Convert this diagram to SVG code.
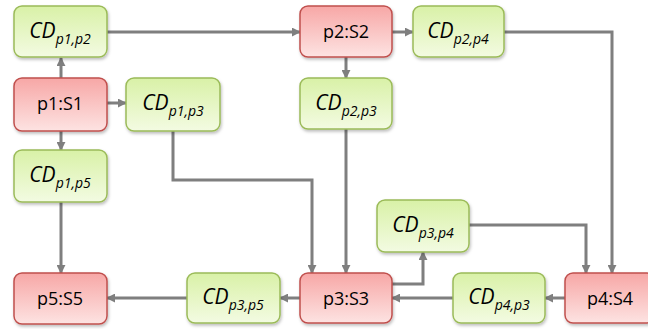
<svg xmlns="http://www.w3.org/2000/svg" width="648" height="329" viewBox="0 0 648 329">
<defs>
<linearGradient id="gr" x1="0" y1="0" x2="0" y2="1">
<stop offset="0" stop-color="#f7a7a6"/>
<stop offset="1" stop-color="#fde3e2"/>
</linearGradient>
<linearGradient id="gg" x1="0" y1="0" x2="0" y2="1">
<stop offset="0" stop-color="#d9f1a7"/>
<stop offset="1" stop-color="#f3fbe2"/>
</linearGradient>
<filter id="sh" x="-10%" y="-10%" width="130%" height="140%">
<feDropShadow dx="1" dy="2" stdDeviation="1.5" flood-color="#000" flood-opacity="0.25"/>
</filter>
<marker id="ah" viewBox="0 0 10 10" refX="9" refY="5" markerWidth="9" markerHeight="9" markerUnits="userSpaceOnUse" orient="auto">
<path d="M0,0 L10,5 L0,10 Z" fill="#7f7f7f"/>
</marker>
</defs>
<style>
.r rect{fill:url(#gr);stroke:#c0504d;stroke-width:1.5;filter:url(#sh)}
.g rect{fill:url(#gg);stroke:#9bbb59;stroke-width:1.5;filter:url(#sh)}
text{font-family:"Open Sans","Liberation Sans",sans-serif;fill:#000;text-anchor:middle}
.r text{font-size:18px}
.g text{font-size:21px;font-style:italic}
.g tspan{font-size:14px}
#edges path{fill:none;stroke:#7f7f7f;stroke-width:3;marker-end:url(#ah)}
</style>
<g id="edges">
<path d="M61,78 V58"/>
<path d="M107,103 H126"/>
<path d="M61,131 V150"/>
<path d="M107,32 H300"/>
<path d="M392,32 H413"/>
<path d="M346,57 V78"/>
<path d="M504,32 H612 V273"/>
<path d="M173,131 V180 H312 V273"/>
<path d="M346,129 V273"/>
<path d="M469,225 H586 V273"/>
<path d="M392,284 H423 V252"/>
<path d="M565,298 H545"/>
<path d="M453,298 H392"/>
<path d="M300,298 H280"/>
<path d="M187,298 H107"/>
<path d="M61,202 V273"/>
</g>
<g id="cd_p1_p2" class="g"><rect x="14" y="6" width="93" height="51" rx="8"/><text x="60" y="38">CD<tspan dy="6">p1,p2</tspan></text></g>
<g id="p1" class="r"><rect x="14" y="78" width="93" height="53" rx="8"/><text x="60" y="110">p1:S1</text></g>
<g id="cd_p1_p3" class="g"><rect x="126" y="78" width="94" height="53" rx="8"/><text x="173" y="110">CD<tspan dy="6">p1,p3</tspan></text></g>
<g id="cd_p1_p5" class="g"><rect x="14" y="150" width="93" height="52" rx="8"/><text x="60" y="182">CD<tspan dy="6">p1,p5</tspan></text></g>
<g id="p5" class="r"><rect x="14" y="273" width="93" height="51" rx="8"/><text x="60" y="305">p5:S5</text></g>
<g id="p2" class="r"><rect x="300" y="6" width="92" height="51" rx="8"/><text x="346" y="38">p2:S2</text></g>
<g id="cd_p2_p4" class="g"><rect x="413" y="6" width="91" height="51" rx="8"/><text x="458" y="38">CD<tspan dy="6">p2,p4</tspan></text></g>
<g id="cd_p2_p3" class="g"><rect x="300" y="78" width="92" height="51" rx="8"/><text x="346" y="110">CD<tspan dy="6">p2,p3</tspan></text></g>
<g id="cd_p3_p4" class="g"><rect x="377" y="200" width="92" height="52" rx="8"/><text x="423" y="232">CD<tspan dy="6">p3,p4</tspan></text></g>
<g id="cd_p3_p5" class="g"><rect x="187" y="273" width="93" height="50" rx="8"/><text x="233" y="304">CD<tspan dy="6">p3,p5</tspan></text></g>
<g id="p3" class="r"><rect x="300" y="273" width="92" height="50" rx="8"/><text x="346" y="305">p3:S3</text></g>
<g id="cd_p4_p3" class="g"><rect x="453" y="273" width="92" height="50" rx="8"/><text x="499" y="304">CD<tspan dy="6">p4,p3</tspan></text></g>
<g id="p4" class="r"><rect x="565" y="273" width="90" height="50" rx="8"/><text x="610" y="305">p4:S4</text></g>
</svg>
